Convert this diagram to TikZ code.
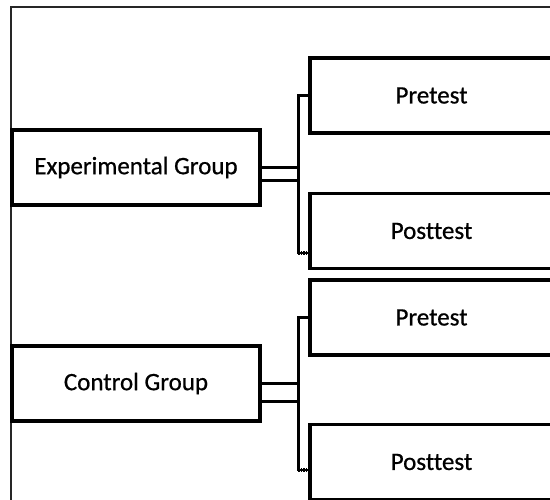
\documentclass[tikz,border=0pt]{standalone}
\usepackage{fontspec}
\setmainfont{Carlito}
\newfontfamily\labfont{Carlito}[FakeBold=0.7, Ligatures={NoCommon}]
\usetikzlibrary{calc}
\tikzset{
  box/.style={draw=black, line width=3.2pt, rectangle, inner sep=0pt, fill=white,
    font=\labfont\fontsize{25}{29}\selectfont},
  grp/.style={box, minimum width=248pt, minimum height=75pt},
  tst/.style={box, minimum width=243pt, minimum height=75pt},
  conn/.style={line width=2.8pt, line cap=butt},
  dconn/.style={line width=2.6pt, postaction={draw, line width=3.6pt, dash pattern=on 1.5pt off 1pt}},
  frame/.style={draw=black!85, line width=2.2pt}
}
\begin{document}
\begin{tikzpicture}[x=1pt,y=-1pt]
\useasboundingbox (0,0) rectangle (550,500);
\clip (0,0) rectangle (550,500);
\fill[white] (0,0) rectangle (550,500);
\draw[frame] (570,7) -- (11,7) -- (11,520);
% groups
\node[grp] (eg) at (136,167.5) {Experimental Group};
\node[grp] (cg) at (136,383.5) {Control Group};
% tests
\node[tst] (pre1) at (431.5,95.5) {Pretest};
\node[tst] (post1) at (431.5,231) {Posttest};
\node[tst] (pre2) at (431.5,317.5) {Pretest};
\node[tst] (post2) at (431.5,462) {Posttest};
% spine coordinates
\coordinate (s1) at ($(pre1.west)+(-10,0)$);
\coordinate (e1) at ($(post1.west)+(0,22)$);
\coordinate (s2) at ($(pre2.west)+(-10,0)$);
\coordinate (e2) at ($(post2.west)+(0,8)$);
% experimental connectors
\draw[conn] (eg.east) -- (eg.east -| s1);
\draw[dconn] ($(eg.east)+(0,13)$) -- ($(eg.east -| s1)+(0,13)$);
\draw[dconn] (pre1.west) -- (s1) |- (e1);
% control connectors
\draw[conn] (cg.east) -- (cg.east -| s2);
\draw[dconn] ($(cg.east)+(0,18)$) -- ($(cg.east -| s2)+(0,18)$);
\draw[dconn] (pre2.west) -- (s2) |- (e2);
\end{tikzpicture}
\end{document}
